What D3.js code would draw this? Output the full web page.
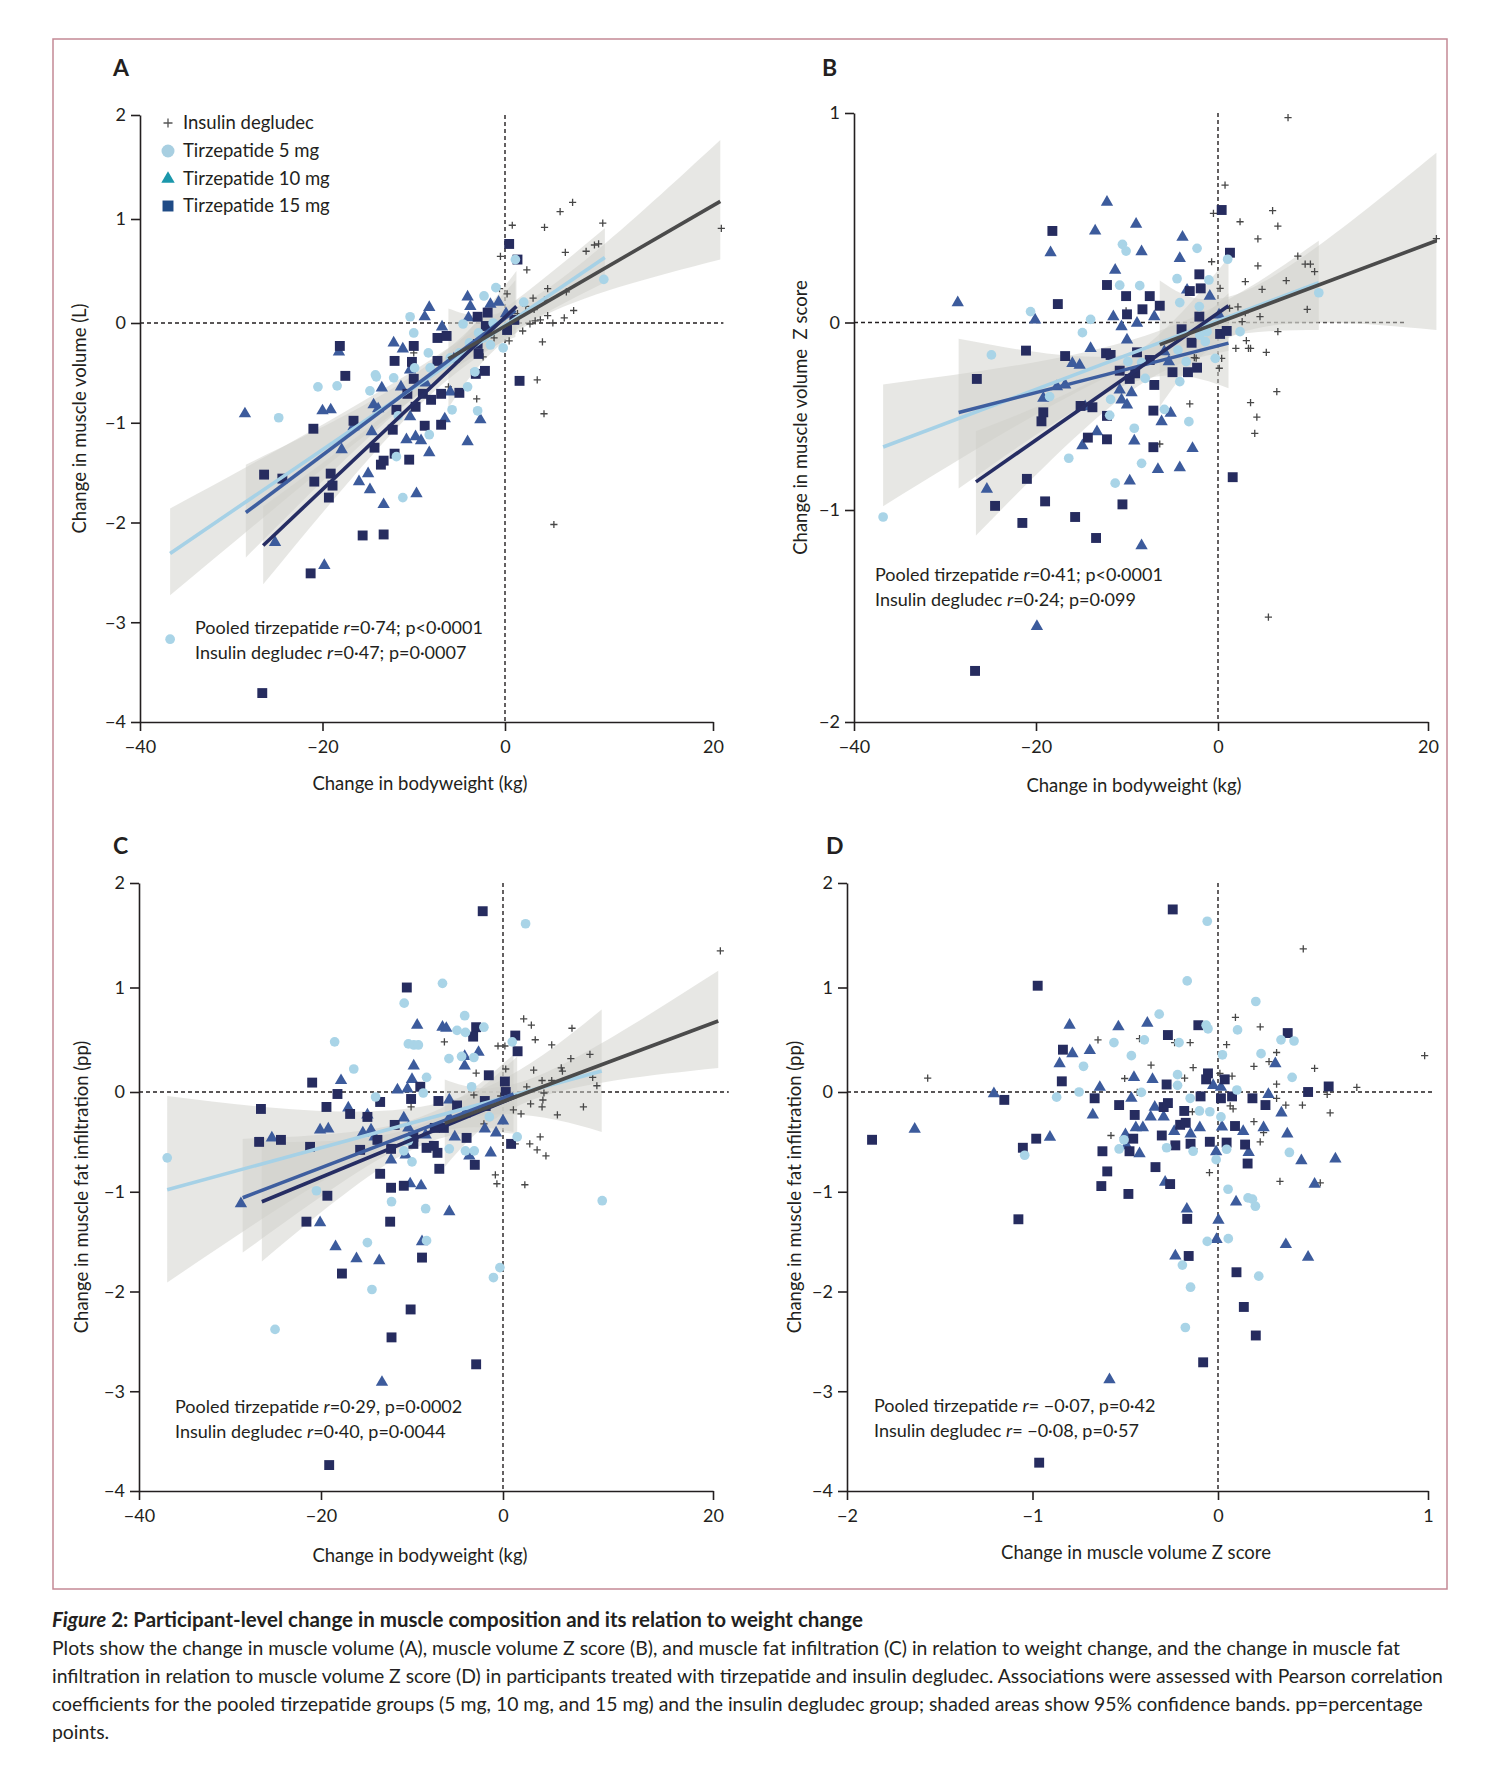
<!DOCTYPE html>
<html>
<head>
<meta charset="utf-8">
<script src="https://cdn.jsdelivr.net/npm/d3@7"></script>
<style>
  body { margin: 0; background: #fff; }
  svg { display: block; font-family: Lato, "Open Sans", sans-serif; }
</style>
</head>
<body>
<svg id="fig" width="1500" height="1784" viewBox="0 0 1500 1784"></svg>
<script>
// ---- data: [x, y] per participant ----
const aDeg = [[6.5,1.16],[5.3,1.07],[0.7,0.94],[3.8,0.92],[9.4,0.96],[20.8,0.91],[5.8,0.68],[7.8,0.69],[8.6,0.75],[9.0,0.76],[-0.5,0.64],[2.1,0.51],[-0.6,0.33],[0.2,0.28],[4.1,0.33],[5.9,0.30],[2.7,0.24],[3.8,0.22],[2.0,0.16],[2.8,0.13],[1.2,0.09],[4.1,0.07],[3.4,0.03],[2.9,0.02],[5.7,0.05],[6.6,0.12],[2.4,-0.01],[4.6,0.0],[1.7,-0.08],[0.4,-0.18],[3.6,-0.19],[3.1,-0.57],[3.75,-0.91],[-3.1,-0.76],[4.7,-2.02],[-6.2,-0.64],[-10.0,-0.30],[-2.4,-0.34],[-1.2,-0.15]]
const aT5 = [[-2.3,0.26],[-1.0,0.34],[1.0,0.61],[-10.4,0.06],[-10.0,-0.10],[-4.6,-0.01],[-2.9,-0.10],[-1.3,0.0],[-3.9,-0.20],[-2.4,-0.15],[-1.6,-0.22],[-0.2,-0.25],[-8.4,-0.30],[-8.2,-0.45],[-9.9,-0.45],[-14.2,-0.52],[-14.1,-0.54],[-12.2,-0.55],[-14.8,-0.68],[-18.4,-0.63],[-20.5,-0.64],[-24.8,-0.95],[-3.3,-0.49],[-4.1,-0.64],[-5.8,-0.87],[-3.0,-0.88],[-11.7,-0.93],[-8.3,-1.12],[-11.9,-1.34],[-11.2,-1.75],[9.5,0.42],[1.8,0.20],[-6.0,-0.35],[-5.0,-0.30],[-36.7,-3.17]]
const aT10 = [[-4.1,0.25],[-3.8,0.16],[-8.3,0.15],[-8.8,0.06],[-6.9,-0.04],[-4.0,0.05],[-1.6,0.18],[-0.7,0.20],[0.1,0.09],[-12.2,-0.20],[-11.2,-0.26],[-13.5,-0.65],[-11.4,-0.64],[-10.4,-0.47],[-8.7,-0.60],[-14.4,-0.82],[-13.9,-0.86],[-20.0,-0.88],[-19.1,-0.87],[-28.5,-0.91],[-18.2,-0.29],[-16.6,-1.04],[-14.6,-1.09],[-10.4,-0.94],[-9.8,-1.14],[-10.8,-1.17],[-9.2,-1.18],[-8.3,-1.30],[-6.6,-0.96],[-2.7,-0.97],[-4.1,-1.19],[-6.0,-0.69],[-5.6,-0.36],[-17.9,-1.27],[-16.0,-1.59],[-14.8,-1.67],[-15.0,-1.51],[-9.7,-1.71],[-13.3,-1.82],[-25.2,-2.20],[-19.8,-2.43]]
const aT15 = [[0.4,0.76],[1.2,0.61],[-3.0,0.06],[-1.9,0.10],[-2.1,-0.03],[0.9,0.03],[0.2,-0.07],[-7.4,-0.15],[-6.4,-0.13],[-10.0,-0.23],[-18.1,-0.23],[-12.1,-0.38],[-10.2,-0.39],[-7.4,-0.38],[-17.5,-0.53],[-10.0,-0.56],[-3.2,-0.51],[-2.2,-0.48],[-2.9,-0.31],[-3.0,-0.21],[-10.7,-0.71],[-9.0,-0.71],[-8.1,-0.77],[-7.0,-0.71],[-5.0,-0.70],[-9.8,-0.84],[-11.9,-0.87],[-16.6,-0.98],[-21.0,-1.06],[-12.3,-1.07],[-8.8,-1.03],[-7.0,-1.02],[-14.3,-1.25],[-12.1,-1.31],[-10.5,-1.37],[-13.6,-1.42],[-13.3,-1.38],[-26.4,-1.52],[-24.4,-1.56],[-20.9,-1.59],[-19.1,-1.51],[-18.9,-1.63],[-19.3,-1.75],[-15.6,-2.13],[-13.3,-2.12],[1.4,-0.58],[-21.3,-2.51],[-26.6,-3.71]]

const bDeg = [[5.2,0.534],[5.7,0.46],[2.1,0.481],[3.8,0.399],[-0.5,0.521],[0.67,0.656],[-0.7,0.29],[3.8,0.27],[7.6,0.317],[8.3,0.279],[8.8,0.279],[9.2,0.243],[6.5,0.2],[2.6,0.195],[4.2,0.158],[0.2,0.163],[8.5,0.063],[1.9,0.075],[1.1,0.068],[2.6,0.047],[4.0,0.028],[2.3,0.004],[5.7,-0.049],[2.7,-0.097],[1.7,-0.138],[2.9,-0.138],[3.1,-0.138],[4.6,-0.159],[5.6,-0.369],[3.1,-0.427],[3.7,-0.505],[3.5,-0.591],[-3.1,-0.434],[-6.4,-0.648],[-2.6,-0.187],[0.35,-0.191],[0.12,-0.244],[-10.1,0.056],[6.67,0.978],[4.8,-1.505],[20.8,0.40],[-2.4,-0.19]]
const bT5 = [[-10.5,0.373],[-10.1,0.341],[-2.3,0.354],[0.92,0.302],[-4.5,0.209],[-1.0,0.203],[-10.8,0.178],[-8.6,0.176],[-4.2,0.095],[-2.05,0.076],[-20.6,0.052],[-14.0,0.015],[-14.9,-0.054],[-1.2,-0.049],[-2.0,-0.067],[2.1,-0.049],[-1.4,-0.102],[-24.9,-0.173],[-4.4,-0.147],[-3.5,-0.209],[-8.4,-0.214],[-9.9,-0.209],[-0.3,-0.191],[-18.5,-0.395],[-11.8,-0.41],[-5.9,-0.463],[-11.9,-0.495],[-4.2,-0.315],[-8.0,-0.298],[-3.2,-0.529],[-9.2,-0.564],[-16.4,-0.724],[-8.4,-0.751],[-11.3,-0.857],[-36.8,-1.033],[9.6,0.142]]
const bT10 = [[-12.2,0.574],[-9.0,0.469],[-13.5,0.437],[-18.4,0.333],[-8.4,0.338],[-3.9,0.407],[-4.2,0.306],[-11.3,0.25],[-3.4,0.155],[-0.9,0.126],[-28.6,0.095],[-20.1,0.012],[-11.5,0.028],[-10.6,-0.022],[-8.9,-0.004],[-7.0,0.028],[0.1,0.036],[-10.0,-0.093],[-14.0,-0.138],[-16.0,-0.218],[-15.2,-0.227],[-5.9,-0.156],[-5.4,-0.209],[-17.7,-0.342],[-16.8,-0.333],[-19.2,-0.404],[-10.8,-0.36],[-9.5,-0.374],[-10.6,-0.413],[-10.0,-0.44],[-14.6,-0.449],[-5.2,-0.484],[-6.2,-0.529],[-13.3,-0.582],[-9.2,-0.632],[-14.9,-0.657],[-2.8,-0.671],[-6.6,-0.783],[-4.2,-0.774],[-9.7,-0.845],[-25.4,-0.889],[-8.4,-1.168],[-19.9,-1.549]]
const bT15 = [[0.35,0.537],[-18.2,0.437],[1.14,0.333],[-2.05,0.23],[-1.9,0.163],[-3.1,0.15],[-12.2,0.179],[-17.6,0.088],[-10.1,0.126],[-7.5,0.126],[-6.4,0.08],[-8.3,0.063],[-10.0,0.039],[-2.05,0.028],[-4.0,-0.036],[0.2,-0.061],[0.83,-0.045],[-2.9,-0.108],[-21.1,-0.15],[-16.8,-0.179],[-12.3,-0.164],[-11.8,-0.173],[-8.9,-0.159],[-7.5,-0.2],[-26.5,-0.301],[-10.8,-0.257],[-9.7,-0.301],[-9.1,-0.271],[-7.0,-0.333],[-5.0,-0.265],[-3.3,-0.265],[-2.3,-0.241],[-15.1,-0.445],[-13.8,-0.452],[-19.2,-0.479],[-19.4,-0.527],[-12.2,-0.498],[-7.1,-0.47],[-14.3,-0.614],[-12.2,-0.623],[-7.1,-0.665],[1.4,-0.825],[-21.0,-0.834],[-24.5,-0.978],[-19.0,-0.954],[-21.5,-1.061],[-15.7,-1.033],[-10.5,-0.97],[-13.4,-1.132],[-26.7,-1.759]]

const cDeg = [[20.7,1.35],[1.97,0.70],[2.7,0.64],[6.57,0.61],[3.07,0.50],[4.64,0.45],[-6.44,0.48],[-0.55,0.44],[0.18,0.44],[6.46,0.32],[8.28,0.36],[5.55,0.23],[5.66,0.20],[2.92,0.21],[-2.95,0.18],[0.26,0.22],[8.54,0.14],[8.94,0.06],[3.72,0.11],[4.64,0.11],[2.26,0.05],[3.9,-0.01],[3.8,-0.08],[3.72,-0.15],[2.63,-0.12],[7.66,-0.15],[5.18,-0.23],[0.99,-0.18],[1.72,-0.22],[-3.2,-0.03],[-0.25,-0.04],[-10.1,-0.15],[-2.1,-0.32],[3.54,-0.45],[2.55,-0.52],[3.25,-0.58],[4.09,-0.64],[1.17,-0.52],[-0.84,-0.83],[-0.67,-0.92],[2.08,-0.93]]
const cT5 = [[2.15,1.61],[-6.65,1.04],[-10.86,0.85],[-4.21,0.73],[-2.1,0.62],[-5.05,0.59],[-4.13,0.57],[-18.5,0.48],[-10.4,0.46],[-9.8,0.45],[-9.3,0.45],[0.88,0.48],[-5.94,0.32],[-4.55,0.34],[-3.2,0.33],[-16.4,0.22],[-8.4,0.14],[-3.45,0.05],[-14.0,-0.05],[-8.76,-0.01],[-1.5,-0.25],[1.35,-0.45],[-4.13,-0.59],[-3.16,-0.59],[-5.9,-0.57],[-10.0,-0.70],[-36.9,-0.66],[-12.25,-1.10],[-8.5,-1.17],[-20.5,-0.99],[-14.9,-1.51],[-8.4,-1.49],[-14.4,-1.98],[-0.34,-1.76],[-1.05,-1.86],[-25.05,-2.38],[9.45,-1.09],[-10.4,-0.49],[-10.9,-0.59]]
const cT10 = [[-9.43,0.64],[-6.65,0.62],[-6.23,0.61],[-2.69,0.38],[-4.21,0.34],[-4.21,0.25],[-9.81,0.25],[-10.0,0.12],[-17.8,0.11],[-11.6,0.02],[-10.5,0.03],[-5.9,-0.08],[-17.0,-0.16],[-14.9,-0.23],[-10.9,-0.26],[-20.1,-0.38],[-19.2,-0.37],[-15.4,-0.41],[-14.5,-0.38],[-10.4,-0.36],[-14.1,-0.45],[-8.5,-0.43],[-5.3,-0.45],[-25.4,-0.46],[-2.0,-0.37],[-0.76,-0.41],[0.0,-0.29],[-4.2,-0.22],[-5.9,-0.26],[-12.3,-0.68],[-10.7,-0.63],[-3.7,-0.64],[-1.35,-0.61],[-10.2,-0.92],[-9.0,-0.94],[-5.9,-1.20],[-20.1,-1.31],[-18.4,-1.55],[-16.1,-1.67],[-13.6,-1.69],[-8.9,-1.50],[-13.3,-2.91],[-28.8,-1.12]]
const cT15 = [[-2.23,1.73],[-10.57,1.0],[-2.95,0.62],[-3.28,0.53],[1.17,0.54],[1.39,0.39],[-1.56,0.16],[-9.09,0.05],[-20.97,0.09],[-18.19,-0.02],[-10.1,-0.07],[-7.1,-0.09],[-13.5,-0.10],[-19.4,-0.15],[-26.6,-0.17],[-5.05,-0.135],[-2.0,-0.09],[-1.9,-0.14],[-16.8,-0.22],[-14.9,-0.25],[-11.9,-0.33],[-7.5,-0.36],[-6.5,-0.36],[-13.8,-0.48],[-9.85,-0.45],[-9.85,-0.52],[-24.4,-0.48],[-26.8,-0.50],[-21.2,-0.55],[-15.7,-0.58],[-12.3,-0.57],[-8.4,-0.56],[-7.6,-0.54],[-4.0,-0.46],[-7.2,-0.61],[-3.1,-0.73],[0.77,-0.52],[-13.5,-0.82],[-7.0,-0.77],[-12.3,-0.96],[-10.9,-0.94],[-19.3,-1.04],[-21.6,-1.30],[-12.4,-1.30],[-8.9,-1.66],[-17.7,-1.82],[-10.15,-2.18],[-12.25,-2.46],[-2.95,-2.73],[-19.1,-3.74],[0.18,0.10],[0.26,0.0]]

const dDeg = [[0.406,1.369],[0.984,0.348],[-1.565,0.132],[-0.647,0.499],[-0.423,0.511],[-0.234,0.473],[-0.15,0.473],[0.083,0.715],[0.201,0.624],[0.041,0.454],[0.279,0.378],[0.243,0.291],[0.171,0.246],[0.46,0.227],[-0.361,0.257],[-0.134,0.234],[-0.18,0.132],[-0.503,0.129],[0.009,0.178],[0.067,0.151],[0.279,0.076],[0.279,-0.063],[0.323,-0.131],[0.402,-0.131],[0.52,-0.024],[0.661,0.045],[0.534,-0.21],[0.058,-0.139],[0.072,-0.17],[-0.138,-0.198],[-0.435,-0.004],[0.171,-0.297],[0.201,-0.499],[0.217,-0.408],[-0.577,-0.436],[-0.13,-0.571],[-0.046,-0.808],[0.295,-0.895],[0.487,-0.911]]
const dT5 = [[-0.058,1.634],[-0.166,1.063],[0.18,0.866],[-0.317,0.745],[-0.064,0.639],[-0.054,0.605],[0.093,0.594],[-0.561,0.473],[-0.397,0.499],[-0.21,0.473],[-0.467,0.348],[0.021,0.356],[0.205,0.367],[0.3,0.499],[0.362,0.488],[-0.725,0.246],[-0.218,0.166],[-0.218,0.064],[0.353,0.14],[-0.87,-0.052],[-0.749,0.0],[-0.413,-0.004],[-0.15,-0.063],[-0.044,-0.198],[-0.1,-0.19],[0.014,-0.25],[0.09,0.019],[-0.507,-0.479],[-0.533,-0.571],[-0.277,-0.559],[-0.134,-0.594],[0.041,-0.574],[0.34,-0.606],[-0.01,-0.678],[-1.042,-0.634],[0.048,-0.975],[0.143,-1.062],[0.164,-1.074],[0.178,-1.145],[-0.058,-1.498],[0.049,-1.47],[-0.192,-1.735],[0.194,-1.846],[-0.148,-1.957],[-0.176,-2.361]]
const dT10 = [[-0.80,0.639],[-0.537,0.624],[-0.381,0.658],[-0.785,0.367],[-0.691,0.397],[-0.854,0.272],[-0.453,0.14],[-0.353,0.121],[-0.637,0.045],[-1.208,-0.016],[-0.467,-0.063],[-0.026,0.064],[0.014,0.045],[-0.675,-0.23],[-0.341,-0.151],[-0.363,-0.25],[-0.293,-0.25],[-1.635,-0.372],[-0.906,-0.452],[-0.499,-0.428],[-0.443,-0.357],[-0.405,-0.357],[-0.236,-0.396],[-0.148,-0.42],[-0.098,-0.357],[0.019,-0.349],[0.12,-0.396],[0.217,-0.357],[0.302,-0.21],[0.33,-0.42],[0.273,0.272],[0.24,-0.024],[-0.423,-0.618],[-0.493,-0.539],[-0.01,-0.598],[0.146,-0.606],[0.397,-0.689],[0.559,-0.67],[-0.285,-0.903],[0.46,-0.923],[0.086,-1.101],[-0.168,-1.173],[0.002,-1.284],[-0.008,-1.478],[-0.23,-1.644],[0.323,-1.529],[0.429,-1.656],[-0.585,-2.884]]
const dT15 = [[-0.244,1.747],[-0.972,1.017],[-0.106,0.639],[-0.27,0.545],[0.332,0.564],[-0.836,0.405],[-0.842,0.102],[-0.054,0.178],[-0.064,0.121],[0.032,0.121],[-0.277,0.072],[0.527,0.053],[0.429,0.0],[-0.665,-0.063],[-1.152,-0.079],[-0.533,-0.131],[-0.094,-0.044],[0.014,-0.063],[0.067,-0.044],[0.164,-0.063],[0.226,-0.131],[-0.293,-0.151],[-0.27,-0.111],[-0.182,-0.19],[-0.449,-0.23],[-0.204,-0.329],[-0.174,-0.309],[0.081,-0.341],[-0.457,-0.468],[-0.303,-0.436],[-0.98,-0.468],[-1.052,-0.559],[-1.865,-0.479],[-0.623,-0.594],[-0.477,-0.594],[-0.23,-0.535],[-0.148,-0.519],[-0.044,-0.499],[0.041,-0.507],[0.129,-0.527],[0.141,-0.717],[-0.337,-0.753],[-0.597,-0.796],[-0.629,-0.943],[-0.258,-0.923],[-0.483,-1.022],[-1.076,-1.276],[-0.166,-1.272],[-0.158,-1.644],[0.088,-1.807],[0.123,-2.155],[0.18,-2.441],[-0.08,-2.71],[-0.964,-3.716]]

// fitted lines: [[x0, y0], [x1, y1]]; bands: [x, lower, upper]
const fitA = { t5: [[-36.7,-2.31],[9.6,0.63]], t10: [[-28.4,-1.90],[1.0,0.12]], t15: [[-26.5,-2.23],[1.1,0.16]], deg: [[-6.2,-0.36],[20.7,1.17]] }
const bandA = { t5: [[-36.7,-2.73,-1.86],[-8,-0.62,-0.36],[9.6,0.39,0.91]], t10: [[-28.4,-2.35,-1.42],[-10,-0.75,-0.52],[1.0,-0.14,0.41]], t15: [[-26.5,-2.62,-1.84],[-10,-0.88,-0.66],[1.1,-0.1,0.5]], deg: [[-6.2,-0.85,0.14],[3,0.03,0.26],[20.7,0.61,1.76]] }
const fitB = { t5: [[-36.8,-0.664],[9.6,0.19]], t10: [[-28.5,-0.48],[1.0,-0.11]], t15: [[-26.6,-0.85],[1.0,0.08]], deg: [[-6.4,-0.118],[20.8,0.39]] }
const bandB = { t5: [[-36.8,-0.98,-0.33],[-8,-0.20,-0.07],[9.6,-0.04,0.39]], t10: [[-28.5,-0.885,-0.087],[-10,-0.33,-0.17],[1.0,-0.35,0.14]], t15: [[-26.6,-1.12,-0.58],[-10,-0.38,-0.20],[1.0,-0.15,0.31]], deg: [[-6.4,-0.45,0.2],[3,-0.04,0.16],[20.8,-0.04,0.81]] }
const fitC = { t5: [[-36.9,-0.98],[9.4,0.2]], t10: [[-28.6,-1.06],[1.0,-0.02]], t15: [[-26.5,-1.10],[1.35,-0.04]], deg: [[-6.4,-0.315],[20.5,0.68]] }
const bandC = { t5: [[-36.9,-1.91,-0.04],[-8,-0.36,-0.13],[9.4,-0.40,0.79]], t10: [[-28.6,-1.61,-0.47],[-10,-0.50,-0.28],[1.0,-0.40,0.36]], t15: [[-26.5,-1.70,-0.50],[-10,-0.58,-0.36],[1.35,-0.42,0.34]], deg: [[-6.4,-0.75,0.12],[3,-0.07,0.14],[20.5,0.23,1.16]] }

const weightTicks = [-40, -20, 0, 20]
const volumeTicks = [-4, -3, -2, -1, 0, 1, 2]
const zTicks = [-2, -1, 0, 1]

const legendLabels = ['Insulin degludec', 'Tirzepatide 5 mg', 'Tirzepatide 10 mg', 'Tirzepatide 15 mg']
const statsA = [['Pooled tirzepatide ', '=0·74; p<0·0001'], ['Insulin degludec ', '=0·47; p=0·0007']]
const statsB = [['Pooled tirzepatide ', '=0·41; p<0·0001'], ['Insulin degludec ', '=0·24; p=0·099']]
const statsC = [['Pooled tirzepatide ', '=0·29, p=0·0002'], ['Insulin degludec ', '=0·40, p=0·0044']]
const statsD = [['Pooled tirzepatide ', '= −0·07, p=0·42'], ['Insulin degludec ', '= −0·08, p=0·57']]

const captionLines = [
  'Plots show the change in muscle volume (A), muscle volume Z score (B), and muscle fat infiltration (C) in relation to weight change, and the change in muscle fat',
  'infiltration in relation to muscle volume Z score (D) in participants treated with tirzepatide and insulin degludec. Associations were assessed with Pearson correlation',
  'coefficients for the pooled tirzepatide groups (5 mg, 10 mg, and 15 mg) and the insulin degludec group; shaded areas show 95% confidence bands. pp=percentage',
  'points.'
]

// ---- styles ----
const ink = '#231f20'
const colors = { deg: '#474747', t5: '#a9d4e7', t10: '#3c5b9c', t15: '#262c5f' }
const lineColors = { deg: '#4b4b4b', t5: '#a6d1e6', t10: '#3e5e9f', t15: '#262d63' }

const svg = d3.select('#fig')
const fmt = d => d < 0 ? '\u2212' + Math.abs(d) : String(d)

svg.append('rect')
  .attr('x', 53).attr('y', 39).attr('width', 1394).attr('height', 1550)
  .attr('fill', 'none').attr('stroke', '#c48995').attr('stroke-width', 1.5)

const panels = [
  {
    letter: 'A', lx: 113, ly: 76,
    x: d3.scaleLinear().domain([-40, 0, 20]).range([140, 505, 713]),
    y: d3.scaleLinear().domain([-4, 0, 2]).range([722, 323, 115]),
    xTicks: weightTicks, yTicks: volumeTicks, hEnd: 21,
    data: { deg: aDeg, t5: aT5, t10: aT10, t15: aT15 }, fit: fitA, band: bandA,
    xTitle: 'Change in bodyweight (kg)', xtx: 420, xty: 790,
    yTitle: 'Change in muscle volume (L)', ytx: 80,
    stats: statsA, sx: 195, sy: 634
  },
  {
    letter: 'B', lx: 822, ly: 76,
    x: d3.scaleLinear().domain([-40, -20, 0, 20]).range([854, 1036, 1218, 1428]),
    y: d3.scaleLinear().domain([-2, -1, 0, 1]).range([722, 510, 322.5, 113]),
    xTicks: weightTicks, yTicks: zTicks, hEnd: 18,
    data: { deg: bDeg, t5: bT5, t10: bT10, t15: bT15 }, fit: fitB, band: bandB,
    xTitle: 'Change in bodyweight (kg)', xtx: 1134, xty: 792,
    yTitle: 'Change in muscle volume  Z score', ytx: 801,
    stats: statsB, sx: 875, sy: 581
  },
  {
    letter: 'C', lx: 113, ly: 854,
    x: d3.scaleLinear().domain([-40, 0, 20]).range([139, 503, 713]),
    y: d3.scaleLinear().domain([-4, 0, 2]).range([1491, 1092, 883]),
    xTicks: weightTicks, yTicks: volumeTicks, hEnd: 21.5,
    data: { deg: cDeg, t5: cT5, t10: cT10, t15: cT15 }, fit: fitC, band: bandC,
    xTitle: 'Change in bodyweight (kg)', xtx: 420, xty: 1562,
    yTitle: 'Change in muscle fat infiltration (pp)', ytx: 82,
    stats: statsC, sx: 175, sy: 1413
  },
  {
    letter: 'D', lx: 826, ly: 854,
    x: d3.scaleLinear().domain([-2, 0, 1]).range([847, 1218, 1428]),
    y: d3.scaleLinear().domain([-4, 0, 2]).range([1491, 1092, 883]),
    xTicks: zTicks, yTicks: volumeTicks, hEnd: 1.03,
    data: { deg: dDeg, t5: dT5, t10: dT10, t15: dT15 }, fit: null, band: null,
    xTitle: 'Change in muscle volume Z score', xtx: 1136, xty: 1559,
    yTitle: 'Change in muscle fat infiltration (pp)', ytx: 795,
    stats: statsD, sx: 874, sy: 1412
  }
]

const square = d3.symbol(d3.symbolSquare, 98)()
const triangle = d3.symbol(d3.symbolTriangle, 66)()
const circle = d3.symbol(d3.symbolCircle, 74)()
const plus = s => `M${-s},0H${s}M0,${-s}V${s}`

function styleAxis(g) {
  g.attr('font-family', 'Lato, "Open Sans", sans-serif').attr('font-size', 18)
  g.select('.domain').attr('stroke', ink).attr('stroke-width', 1.6)
  g.selectAll('.tick line').attr('stroke', ink).attr('stroke-width', 1.6)
  g.selectAll('.tick text').attr('fill', ink)
}

function drawPanel(p) {
  const g = svg.append('g')
  const x0 = p.x.range()[0]
  const yr = p.y.range()
  const yBottom = yr[0], yTop = yr[yr.length - 1]

  // zero reference lines
  g.append('line')
    .attr('x1', p.x(0)).attr('x2', p.x(0)).attr('y1', yTop).attr('y2', yBottom)
    .attr('stroke', ink).attr('stroke-width', 1.4).attr('stroke-dasharray', '4,3')
  g.append('line')
    .attr('x1', x0).attr('x2', p.x(p.hEnd)).attr('y1', p.y(0)).attr('y2', p.y(0))
    .attr('stroke', ink).attr('stroke-width', 1.4).attr('stroke-dasharray', '4,3')

  // confidence bands
  if (p.band) {
    const area = d3.area()
      .x(d => p.x(d[0])).y0(d => p.y(d[1])).y1(d => p.y(d[2]))
      .curve(d3.curveNatural)
    ;['t5', 't10', 't15', 'deg'].forEach(k => {
      g.append('path').datum(p.band[k]).attr('d', area)
        .attr('fill', '#cfd0c9').attr('fill-opacity', 0.5)
    })
  }

  // participants
  const at = d => `translate(${p.x(d[0])},${p.y(d[1])})`
  g.selectAll('path.deg').data(p.data.deg).join('path').attr('class', 'deg')
    .attr('transform', at).attr('d', plus(3.6))
    .attr('stroke', colors.deg).attr('stroke-width', 1.3).attr('fill', 'none')
  g.selectAll('path.t10').data(p.data.t10).join('path').attr('class', 't10')
    .attr('transform', at).attr('d', triangle).attr('fill', colors.t10)
  g.selectAll('path.t15').data(p.data.t15).join('path').attr('class', 't15')
    .attr('transform', at).attr('d', square).attr('fill', colors.t15)
  g.selectAll('path.t5').data(p.data.t5).join('path').attr('class', 't5')
    .attr('transform', at).attr('d', circle).attr('fill', colors.t5)

  // regression lines
  if (p.fit) {
    const line = d3.line().x(d => p.x(d[0])).y(d => p.y(d[1]))
    ;['t5', 't10', 't15', 'deg'].forEach(k => {
      g.append('path').datum(p.fit[k]).attr('d', line)
        .attr('fill', 'none').attr('stroke', lineColors[k]).attr('stroke-width', 3.6)
    })
  }

  // axes
  g.append('g').attr('transform', `translate(${x0},0)`)
    .call(d3.axisLeft(p.y).tickValues(p.yTicks).tickSize(9).tickSizeOuter(0).tickPadding(5).tickFormat(fmt))
    .call(styleAxis)
  g.append('g').attr('transform', `translate(0,${yBottom})`)
    .call(d3.axisBottom(p.x).tickValues(p.xTicks).tickSize(9).tickSizeOuter(0).tickPadding(9).tickFormat(fmt))
    .call(styleAxis)

  // titles
  g.append('text').attr('x', p.lx).attr('y', p.ly)
    .attr('font-size', 23).attr('font-weight', 700).attr('fill', ink).text(p.letter)
  g.append('text').attr('x', p.xtx).attr('y', p.xty).attr('text-anchor', 'middle')
    .attr('font-size', 18.5).attr('fill', ink).text(p.xTitle)
  g.append('text')
    .attr('transform', `translate(${p.ytx},${(yTop + yBottom) / 2}) rotate(-90)`)
    .attr('text-anchor', 'middle').attr('dy', '0.35em')
    .attr('font-size', 18.5).attr('fill', ink).attr('xml:space', 'preserve').text(p.yTitle)

  // correlation notes
  p.stats.forEach((s, i) => {
    const t = g.append('text').attr('x', p.sx).attr('y', p.sy + i * 25)
      .attr('font-size', 18).attr('fill', ink)
    t.append('tspan').text(s[0])
    t.append('tspan').attr('font-style', 'italic').text('r')
    t.append('tspan').text(s[1])
  })
}

panels.forEach(drawPanel)

// legend (panel A)
const legendSymbols = [
  g => g.append('path').attr('d', plus(4.5)).attr('stroke', '#555').attr('stroke-width', 1.3).attr('fill', 'none'),
  g => g.append('circle').attr('r', 6.5).attr('fill', '#a8cfe1'),
  g => g.append('path').attr('d', d3.symbol(d3.symbolTriangle, 78)()).attr('fill', '#1b97ab'),
  g => g.append('path').attr('d', d3.symbol(d3.symbolSquare, 120)()).attr('fill', '#1f4b86')
]
const legendY = [123, 151, 179, 206]
legendLabels.forEach((label, i) => {
  const g = svg.append('g').attr('transform', `translate(168,${legendY[i]})`)
  legendSymbols[i](g)
  g.append('text').attr('x', 15).attr('dy', '0.35em')
    .attr('font-size', 18.5).attr('fill', ink).text(label)
})

// caption
const cap = svg.append('g').attr('fill', ink)
const head = cap.append('text').attr('x', 52).attr('y', 1627)
  .attr('font-weight', 700).attr('font-size', 20.5)
head.append('tspan').attr('font-style', 'italic').text('Figure')
head.append('tspan').text(' 2: Participant-level change in muscle composition and its relation to weight change')
captionLines.forEach((line, i) => {
  cap.append('text').attr('x', 52).attr('y', 1655 + i * 28).attr('font-size', 19.4).text(line)
})
</script>
</body>
</html>
